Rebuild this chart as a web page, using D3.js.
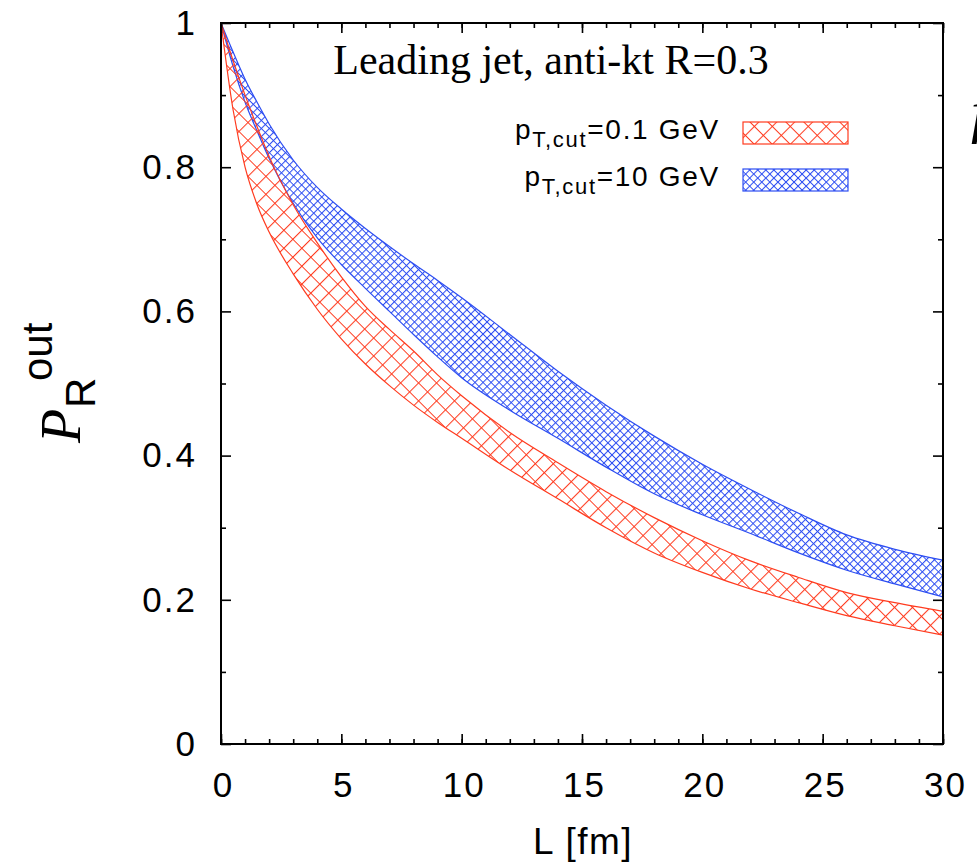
<!DOCTYPE html>
<html>
<head>
<meta charset="utf-8">
<script src="https://cdn.jsdelivr.net/npm/d3@7"></script>
<style>
  body { margin: 0; background: #fff; }
</style>
</head>
<body>
<div id="chart"></div>
<script>
// path length L [fm] and band edges
var L = [0, 0.5, 1, 1.5, 2, 3, 4, 5, 6, 7, 8, 9, 10, 12, 14, 16, 18, 20, 22, 24, 26, 28, 30];
var redUpper  = [1, 0.948, 0.9, 0.856, 0.815, 0.748, 0.695, 0.648, 0.607, 0.575, 0.545, 0.512, 0.483, 0.432, 0.39, 0.35, 0.314, 0.282, 0.254, 0.231, 0.21, 0.196, 0.184];
var redLower  = [1, 0.88, 0.8, 0.748, 0.71, 0.652, 0.603, 0.562, 0.527, 0.497, 0.47, 0.446, 0.424, 0.38, 0.34, 0.3, 0.265, 0.238, 0.215, 0.196, 0.178, 0.164, 0.151];
var blueUpper = [1, 0.96, 0.922, 0.89, 0.86, 0.81, 0.772, 0.742, 0.715, 0.69, 0.666, 0.643, 0.619, 0.568, 0.517, 0.47, 0.427, 0.388, 0.353, 0.32, 0.29, 0.27, 0.255];
var blueLower = [1, 0.94, 0.89, 0.85, 0.812, 0.75, 0.702, 0.665, 0.632, 0.6, 0.568, 0.537, 0.508, 0.463, 0.424, 0.384, 0.347, 0.318, 0.292, 0.265, 0.241, 0.222, 0.204];

var xMajor = [0, 5, 10, 15, 20, 25, 30];
var xMinor = d3.range(0, 31, 1);
var xTickLabels = ["0", "5", "10", "15", "20", "25", "30"];
var yMajor = [0, 0.2, 0.4, 0.6, 0.8, 1];
var yMinor = [0.1, 0.3, 0.5, 0.7, 0.9];
var yTickLabels = ["0", "0.2", "0.4", "0.6", "0.8", "1"];

var seriesNames = ["0.1 GeV", "10 GeV"];
var red = "#ff3b1f", blue = "#2d4ef2";
var sans = "'Liberation Sans', Arial, Helvetica, sans-serif";
var serif = "'Liberation Serif', 'Times New Roman', serif";

var margin = {top: 23, right: 34, bottom: 124, left: 221},
    width = 977 - margin.left - margin.right,
    height = 868 - margin.top - margin.bottom;

var root = d3.select("#chart")
  .append("svg")
    .attr("width", 977)
    .attr("height", 868);

// hatch patterns
var defs = root.append("defs");
function hatch(id, size, color) {
    var p = defs.append("pattern")
        .attr("id", id)
        .attr("patternUnits", "userSpaceOnUse")
        .attr("width", size)
        .attr("height", size)
        .attr("patternTransform", "rotate(45)");
    p.append("path")
        .attr("d", "M0,0.5H" + size + "M0.5,0V" + size)
        .attr("stroke", color)
        .attr("stroke-width", 1.1)
        .attr("fill", "none");
}
hatch("hatchRed", 12.7, red);
hatch("hatchBlue", 5.7, blue);

var svg = root.append("g")
    .attr("transform", "translate(" + margin.left + "," + margin.top + ")");

var x = d3.scaleLinear().domain([0, 30]).range([0, width]);
var y = d3.scaleLinear().domain([0, 1]).range([height, 0]);

// bands
function band(upper, lower, fillId, color) {
    var idx = d3.range(L.length);
    var area = d3.area()
        .x(function(i) { return x(L[i]); })
        .y0(function(i) { return y(lower[i]); })
        .y1(function(i) { return y(upper[i]); })
        .curve(d3.curveMonotoneX);
    svg.append("path")
        .datum(idx)
        .attr("d", area)
        .attr("fill", "url(#" + fillId + ")")
        .attr("stroke", "none");
    [upper, lower].forEach(function(arr) {
        var line = d3.line()
            .x(function(i) { return x(L[i]); })
            .y(function(i) { return y(arr[i]); })
            .curve(d3.curveMonotoneX);
        svg.append("path")
            .datum(idx)
            .attr("d", line)
            .attr("fill", "none")
            .attr("stroke", color)
            .attr("stroke-width", 1.2);
    });
}
band(blueUpper, blueLower, "hatchBlue", blue);
band(redUpper, redLower, "hatchRed", red);

// axes, ticks pointing inwards on all four sides
function styleAxis(g) {
    g.select(".domain").remove();
    g.selectAll("line").attr("stroke", "#000").attr("stroke-width", 1.6);
    g.attr("font-size", 35).attr("font-family", sans);
    g.selectAll("text").attr("fill", "#000").attr("letter-spacing", 2);
}

svg.append("g")
    .attr("transform", "translate(0," + height + ")")
    .call(d3.axisBottom(x).tickValues(xMajor).tickSize(-10).tickPadding(28)
        .tickFormat(function(d, i) { return xTickLabels[i]; }))
    .call(styleAxis)
    .selectAll("text").attr("dx", 2);
svg.append("g")
    .attr("transform", "translate(0," + height + ")")
    .call(d3.axisBottom(x).tickValues(xMinor).tickSize(-5).tickFormat(""))
    .call(styleAxis);
svg.append("g")
    .call(d3.axisTop(x).tickValues(xMajor).tickSize(-10).tickFormat(""))
    .call(styleAxis);
svg.append("g")
    .call(d3.axisTop(x).tickValues(xMinor).tickSize(-5).tickFormat(""))
    .call(styleAxis);

svg.append("g")
    .call(d3.axisLeft(y).tickValues(yMajor).tickSize(-10).tickPadding(24)
        .tickFormat(function(d, i) { return yTickLabels[i]; }))
    .call(styleAxis);
svg.append("g")
    .call(d3.axisLeft(y).tickValues(yMinor).tickSize(-5).tickFormat(""))
    .call(styleAxis);
svg.append("g")
    .attr("transform", "translate(" + width + ",0)")
    .call(d3.axisRight(y).tickValues(yMajor).tickSize(-10).tickFormat(""))
    .call(styleAxis);
svg.append("g")
    .attr("transform", "translate(" + width + ",0)")
    .call(d3.axisRight(y).tickValues(yMinor).tickSize(-5).tickFormat(""))
    .call(styleAxis);

// frame
svg.append("rect")
    .attr("width", width)
    .attr("height", height)
    .attr("fill", "none")
    .attr("stroke", "#000")
    .attr("stroke-width", 2);

// title
root.append("text")
    .attr("x", 551)
    .attr("y", 74)
    .attr("text-anchor", "middle")
    .attr("font-family", serif)
    .attr("font-size", 42)
    .text("Leading jet, anti-kt R=0.3");

// legend
var legendY = [139, 186];
var legendFill = ["hatchRed", "hatchBlue"];
var legendColor = [red, blue];
seriesNames.forEach(function(name, i) {
    var t = root.append("text")
        .attr("x", 720)
        .attr("y", legendY[i])
        .attr("text-anchor", "end")
        .attr("font-family", sans)
        .attr("font-size", 28)
        .attr("letter-spacing", 1.7);
    t.append("tspan").text("p");
    t.append("tspan").attr("dy", 8).attr("font-size", 22).text("T,cut");
    t.append("tspan").attr("dy", -8).text("=" + name);
    root.append("rect")
        .attr("x", 743)
        .attr("y", legendY[i] - 17)
        .attr("width", 105)
        .attr("height", 22)
        .attr("fill", "url(#" + legendFill[i] + ")")
        .attr("stroke", legendColor[i])
        .attr("stroke-width", 1.2);
});

// axis labels
root.append("text")
    .attr("x", 583)
    .attr("y", 854)
    .attr("text-anchor", "middle")
    .attr("font-family", sans)
    .attr("font-size", 37)
    .attr("letter-spacing", 1.5)
    .text("L [fm]");

var ylab = root.append("text")
    .attr("transform", "translate(80,443) rotate(-90)");
ylab.append("tspan")
    .attr("x", 0).attr("y", 0)
    .attr("font-family", serif)
    .attr("font-style", "italic")
    .attr("font-size", 56)
    .text("P");
ylab.append("tspan")
    .attr("x", 35).attr("y", 15)
    .attr("font-family", sans)
    .attr("font-size", 42)
    .text("R");
ylab.append("tspan")
    .attr("x", 62).attr("y", -28)
    .attr("font-family", sans)
    .attr("font-size", 42)
    .text("out");

// edge of the neighbouring panel's label, cut off by the border of the picture
root.append("text")
    .attr("x", 971)
    .attr("y", 131)
    .attr("font-family", serif)
    .attr("font-style", "italic")
    .attr("font-size", 60)
    .text("f");
</script>
</body>
</html>
